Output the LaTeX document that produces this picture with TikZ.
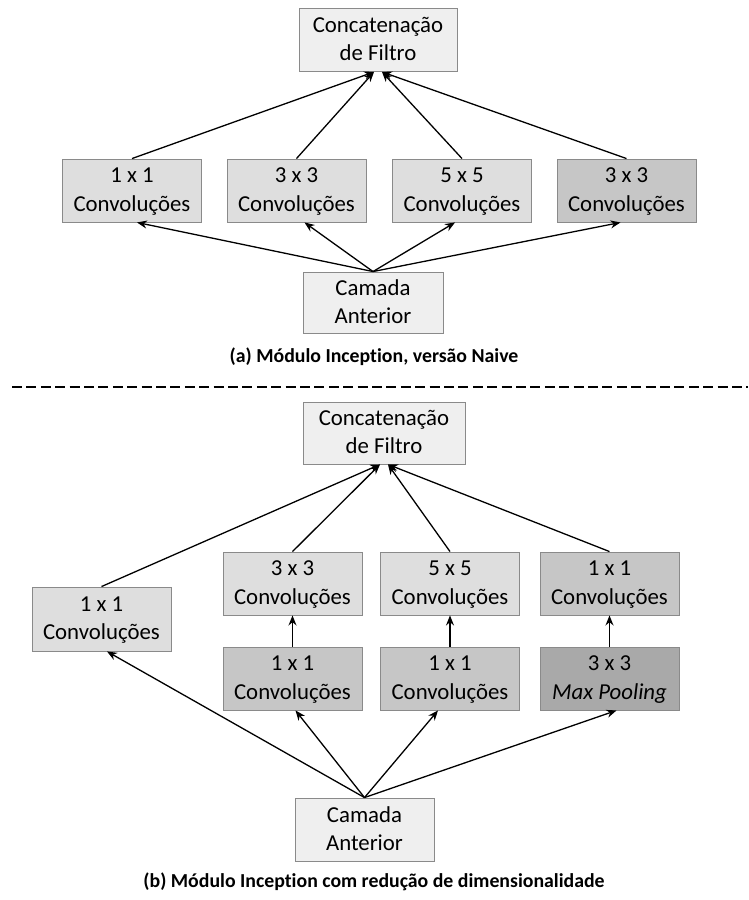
\documentclass[tikz,border=0pt]{standalone}
\usepackage{fontspec}
\setmainfont{Carlito}[Ligatures=NoCommon]
\usetikzlibrary{arrows.meta,calc}

\definecolor{boxline}{HTML}{8A8A8A}
\definecolor{paleA}{HTML}{EFEFEF}
\definecolor{greyA}{HTML}{DEDEDE}
\definecolor{greyB}{HTML}{C6C6C6}
\definecolor{greyC}{HTML}{A9A9A9}

\tikzset{
  blk/.style={draw=boxline, line width=0.9pt, inner sep=0pt, align=center,
    minimum width=139pt, minimum height=63pt, text depth=2pt,
    font=\fontsize{22.8}{28.5}\selectfont},
  outerblk/.style={blk, fill=paleA},
  lightblk/.style={blk, fill=greyA},
  midblk/.style={blk, fill=greyB},
  darkblk/.style={blk, fill=greyC},
  flow/.style={line width=1.3pt, -{Stealth[length=10pt,width=8pt]}},
  caption/.style={font=\fontsize{19.8}{24}\selectfont\bfseries}
}

\begin{document}
\begin{tikzpicture}[x=1pt,y=-1pt]
  \useasboundingbox[fill=white] (0,0) rectangle (748,900);

  % ---- (a) naive version ----
  \node[outerblk, minimum width=158pt] (concatA) at (378,40) {Concatenação\\de Filtro};
  \node[lightblk] (a1) at (132,190.5)   {1 x 1\\Convoluções};
  \node[lightblk] (a3) at (296.5,190.5) {3 x 3\\Convoluções};
  \node[lightblk] (a5) at (462,190.5)   {5 x 5\\Convoluções};
  \node[midblk]   (ap) at (626.5,190.5) {3 x 3\\Convoluções};
  \node[outerblk, minimum width=140pt, minimum height=61pt] (prevA) at (373,302.5) {Camada\\Anterior};

  \foreach \b/\dx in {a1/-4, a3/-4, a5/4, ap/4}
    \draw[flow] (\b.north) -- ($(concatA.south)+(\dx,0)$);
  \foreach \b/\dx in {a1/5, a3/8, a5/-7, ap/-6}
    \draw[flow] (prevA.north) -- ($(\b.south)+(\dx,0)$);

  \node[caption] (capA) at (374,357) {(a) Módulo Inception, versão Naive};

  % separator
  \coordinate (sepL) at (12,387);
  \coordinate (sepR) at (748,387);
  \draw[line width=1.1pt, dash pattern=on 10pt off 4.4pt] (sepL) -- (sepR);

  % ---- (b) with dimensionality reduction ----
  \node[outerblk, minimum width=162pt, minimum height=62pt] (concatB) at (384,433) {Concatenação\\de Filtro};
  \node[lightblk, minimum height=64pt] (b1)  at (101.5,619) {1 x 1\\Convoluções};
  \node[lightblk] (b3)  at (292.5,583.5) {3 x 3\\Convoluções};
  \node[lightblk] (b5)  at (450,583.5)   {5 x 5\\Convoluções};
  \node[midblk]   (bp1) at (609.5,583.5) {1 x 1\\Convoluções};
  \node[midblk]   (r3)  at (292.5,678.5) {1 x 1\\Convoluções};
  \node[midblk]   (r5)  at (450,678.5)   {1 x 1\\Convoluções};
  \node[darkblk]  (mp)  at (609.5,678.5) {3 x 3\\\textit{Max Pooling}};
  \node[outerblk] (prevB) at (364.5,829.5) {Camada\\Anterior};

  \foreach \b/\dx in {b1/-4, b3/-4, b5/4, bp1/4}
    \draw[flow] (\b.north) -- ($(concatB.south)+(\dx,0)$);
  \draw[flow] (r3.north) -- (b3.south);
  \draw[flow] (r5.north) -- (b5.south);
  \draw[flow] (mp.north) -- (bp1.south);
  \foreach \b/\dx in {b1/5.5, r3/3, r5/-12, mp/7}
    \draw[flow] (prevB.north) -- ($(\b.south)+(\dx,0)$);

  \node[caption] (capB) at (374,882) {(b) Módulo Inception com redução de dimensionalidade};
\end{tikzpicture}
\end{document}
